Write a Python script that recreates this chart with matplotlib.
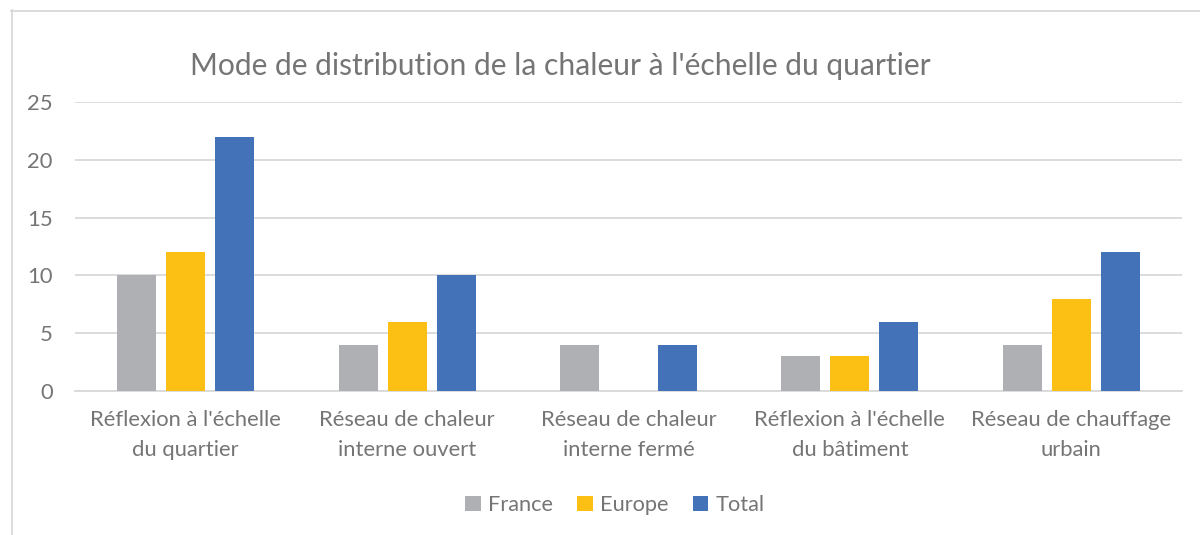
import matplotlib
matplotlib.use("Agg")
import matplotlib.pyplot as plt
from matplotlib.patches import Patch
from matplotlib.lines import Line2D
import numpy as np

plt.rcParams['font.family'] = ['Lato', 'DejaVu Sans']

categories = ["Réflexion à l'échelle\ndu quartier",
              "Réseau de chaleur\ninterne ouvert",
              "Réseau de chaleur\ninterne fermé",
              "Réflexion à l'échelle\ndu bâtiment",
              "Réseau de chauffage\nurbain"]
series_names = ["France", "Europe", "Total"]
france = [10, 4, 4, 3, 4]
europe = [12, 6, 0, 3, 8]
total = [22, 10, 4, 6, 12]
yticks = [0, 5, 10, 15, 20, 25]
title = "Mode de distribution de la chaleur à l'échelle du quartier"

colors = ["#AFB0B3", "#FBC013", "#4472B9"]
text_color = "#757575"
grid_color = "#D9D9D9"

fig = plt.figure(figsize=(12, 5.35), dpi=100)
ax = fig.add_axes([75/1200, 1-391/535, (1182-75)/1200, (391-102)/535])

x = np.arange(len(categories))
bw = 0.176
step = 0.221
for i, (vals, c) in enumerate(zip([france, europe, total], colors)):
    ax.bar(x + (i-1)*step, vals, width=bw, color=c, zorder=3)

ax.set_xlim(-0.5, len(categories)-0.5)
ax.set_ylim(0, 25)
ax.set_yticks(yticks)
ax.set_yticklabels([str(v) for v in yticks])
ax.yaxis.grid(True, color=grid_color, linewidth=1.3, zorder=0)
ax.set_axisbelow(True)
for s in ['top', 'right', 'left']:
    ax.spines[s].set_visible(False)
ax.spines['bottom'].set_color(grid_color)
ax.spines['bottom'].set_linewidth(1.3)
ax.tick_params(axis='y', length=0, pad=16, labelsize=15.8, labelcolor=text_color)
ax.set_xticks(x)
ax.set_xticklabels(categories, linespacing=1.62)
ax.tick_params(axis='x', length=0, pad=14, labelsize=15.8, labelcolor=text_color)

fig.text(560/1200, 1-66/535, title, ha='center', va='center',
         fontsize=21.6, color=text_color)

# chart border (cropped)
fig.add_artist(Line2D([11.5/1200, 11.5/1200], [0, 1-10/535], color=grid_color,
                      linewidth=1.3, transform=fig.transFigure))
fig.add_artist(Line2D([11/1200, 1], [1-10.5/535, 1-10.5/535], color=grid_color,
                      linewidth=1.3, transform=fig.transFigure))

handles = [Patch(facecolor=c, edgecolor='none') for c in colors]
fig.legend(handles, series_names, loc='center', bbox_to_anchor=(615/1200, 1-505/535),
           ncol=3, frameon=False, fontsize=15.7, labelcolor=text_color,
           handlelength=0.7, handleheight=0.7, handletextpad=0.35, columnspacing=1.1)

fig.savefig("out.png", dpi=100)
